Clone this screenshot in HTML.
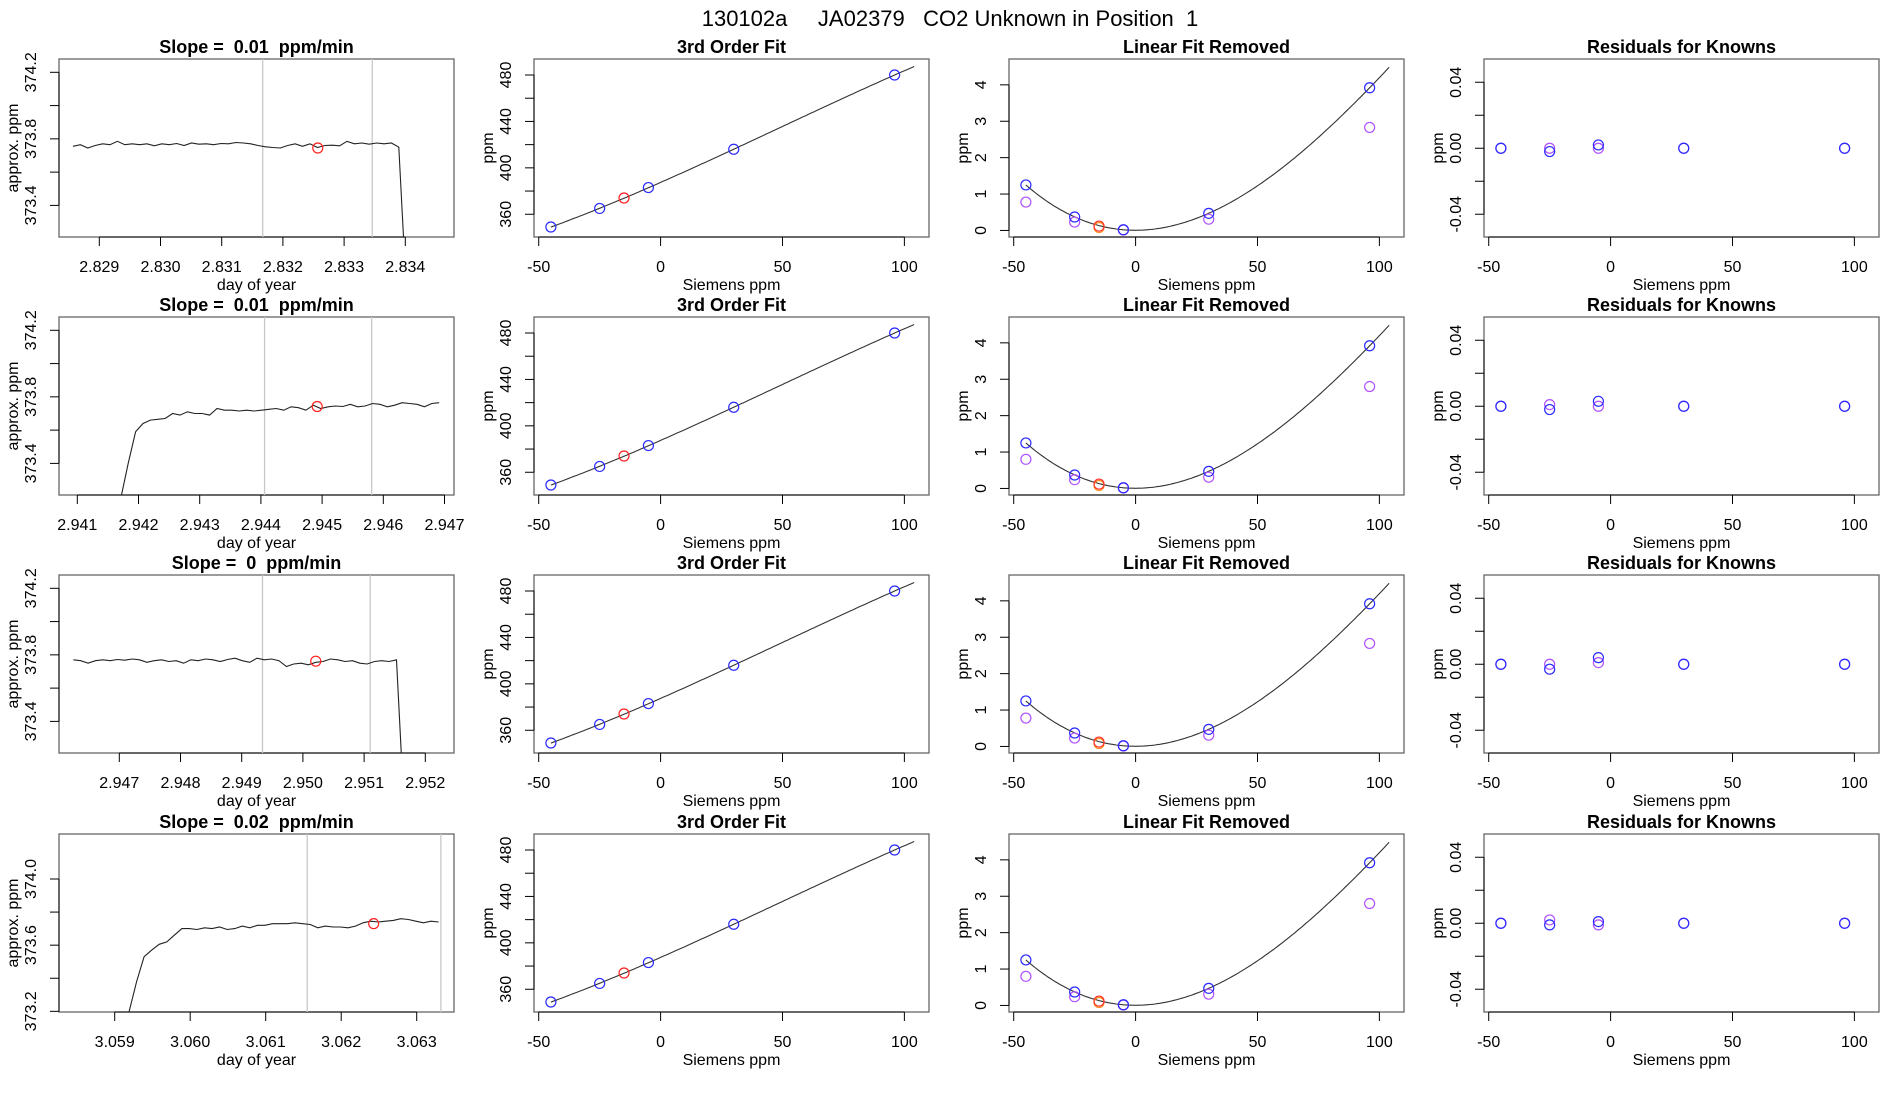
<!DOCTYPE html>
<html><head><meta charset="utf-8"><style>
html,body{margin:0;padding:0;background:#fff;width:1900px;height:1100px;overflow:hidden}
svg text{font-family:"Liberation Sans",Arial,sans-serif;fill:#000;white-space:pre}
</style></head><body>
<svg id="fig" width="1900" height="1100" viewBox="0 0 1900 1100" xmlns="http://www.w3.org/2000/svg">
<rect width="1900" height="1100" fill="#fff"/>
<text x="950" y="26" text-anchor="middle" font-size="22" style="white-space:pre">130102a     JA02379   CO2 Unknown in Position  1</text>
</svg>
<script>
// ---- data ----
const slopeLabels = ["0.01","0.01","0","0.02"];
const tsStart = [2.82857, 2.94171, 2.94625, 3.05919];
const tsStep = [0.000121, 0.000121, 0.00012, 0.0001];
const tsVals0 = [373.755,373.765,373.745,373.76,373.77,373.765,373.785,373.765,373.77,373.765,373.77,373.758,373.77,373.765,373.772,373.76,373.775,373.768,373.77,373.765,373.772,373.77,373.778,373.775,373.77,373.76,373.752,373.748,373.745,373.76,373.77,373.755,373.77,373.748,373.76,373.762,373.758,373.785,373.77,373.775,373.768,373.775,373.77,373.775,373.75,372.9];
const tsVals1 = [373.19,373.40,373.59,373.64,373.66,373.665,373.67,373.70,373.69,373.71,373.70,373.70,373.69,373.73,373.72,373.72,373.715,373.72,373.715,373.72,373.725,373.73,373.72,373.74,373.735,373.72,373.75,373.73,373.74,373.745,373.742,373.755,373.74,373.745,373.76,373.755,373.74,373.75,373.765,373.76,373.755,373.74,373.76,373.765];
const tsVals2 = [373.77,373.765,373.75,373.765,373.77,373.765,373.772,373.768,373.775,373.77,373.755,373.765,373.77,373.76,373.765,373.75,373.77,373.765,373.775,373.77,373.76,373.772,373.78,373.765,373.755,373.78,373.77,373.775,373.765,373.73,373.745,373.75,373.74,373.755,373.76,373.775,373.77,373.76,373.765,373.75,373.745,373.76,373.765,373.76,373.77,372.9];
const tsVals3 = [373.196,373.38,373.53,373.57,373.605,373.62,373.66,373.70,373.70,373.695,373.705,373.70,373.71,373.695,373.70,373.715,373.705,373.72,373.72,373.73,373.73,373.73,373.735,373.73,373.725,373.705,373.715,373.71,373.71,373.705,373.715,373.735,373.745,373.74,373.745,373.75,373.76,373.755,373.745,373.735,373.745,373.74];
const redT = [2.83257, 2.94492, 2.95021, 3.06243];
const redV = [373.745, 373.742, 373.762, 373.73];
const grayLineA = [2.83167, 2.94406, 2.94934, 3.06155];
const grayLineB = [2.83346, 2.94581, 2.95110, 3.06332];
const xTickStart = [2.829, 2.941, 2.947, 3.059];
const xTickEnd = [2.834, 2.947, 2.952, 3.063];
const tsYTicks0 = [373.4, 373.6, 373.8, 374.0, 374.2];
const tsYTicksLast = [373.2, 373.4, 373.6, 373.8, 374.0];
const siemens = [-45, -25, -5, 30, 96];
const unknownX = -15;
const fitPpm = [349, 365, 383, 416, 480];
const unknownPpm = 374;
const linRemBlue = [1.25, 0.37, 0.02, 0.47, 3.92];
const linRemPurple0 = [0.78, 0.23, 0.01, 0.31, 2.83];
const linRemPurple1 = [0.80, 0.24, 0.01, 0.31, 2.80];
const unknownLinRem = [0.12, 0.08];
const residBlue = [[0,-0.002,0.002,0,0],[0,-0.002,0.003,0,0],[0,-0.003,0.004,0,0],[0,-0.001,0.001,0,0]];
const residPurple = [[0,0,0,0,0],[0,0.001,0,0,0],[0,0,0.001,0,0],[0,0.002,-0.001,0,0]];

// ---- drawing ----
const NS="http://www.w3.org/2000/svg";
const svg=document.getElementById('fig');
const colL=[59,534,1009,1484], rowT=[59,317,575,834], W=395, H=178;
function mk(tag,attrs,parent){const e=document.createElementNS(NS,tag);for(const k in attrs)e.setAttribute(k,attrs[k]);(parent||svg).appendChild(e);return e;}
function scale(d0,d1,r0,r1){return v=>r0+(v-d0)/(d1-d0)*(r1-r0);}
let clipN=0;
function panel(r,c,xd,yd,title,xlab,ylab,xt,yt,xfmt,yfmt,name,labelEvery){
  const L=colL[c],T=rowT[r];
  const g=mk('g',{});
  
  
  const sx=scale(xd[0],xd[1],L,L+W), sy=scale(yd[0],yd[1],T+H,T);
  const t=mk('text',{x:L+W/2,y:T-6,'text-anchor':'middle','font-size':18,'font-weight':'bold'},g);t.textContent=title;
  
  
  mk('rect',{x:L,y:T,width:W,height:H,fill:'none',stroke:'#666','stroke-width':1.3},g);
  const xa=mk('g',{},g);
  
  
  mk('line',{x1:sx(xt[0]),x2:sx(xt[xt.length-1]),y1:T+H,y2:T+H,stroke:'#000','stroke-width':1},xa);
  xt.forEach(v=>{mk('line',{x1:sx(v),x2:sx(v),y1:T+H,y2:T+H+9,stroke:'#000'},xa);
    const tx=mk('text',{x:sx(v),y:T+H+35,'text-anchor':'middle','font-size':16},xa);tx.textContent=xfmt(v);});
  const xl=mk('text',{x:L+W/2,y:T+H+53,'text-anchor':'middle','font-size':16},g);xl.textContent=xlab;
  
  
  const ya=mk('g',{},g);
  
  
  mk('line',{x1:L,x2:L,y1:sy(yt[0]),y2:sy(yt[yt.length-1]),stroke:'#000'},ya);
  yt.forEach((v,i)=>{mk('line',{x1:L-9,x2:L,y1:sy(v),y2:sy(v),stroke:'#000'},ya);
    if(i%labelEvery===0){const tx=mk('text',{x:0,y:0,'text-anchor':'middle','font-size':16,transform:`translate(${L-23},${sy(v)}) rotate(-90)`},ya);tx.textContent=yfmt(v);}});
  const yl=mk('text',{x:0,y:0,'text-anchor':'middle','font-size':16,transform:`translate(${L-41},${T+H/2}) rotate(-90)`},g);yl.textContent=ylab;
  
  
  const id='cp'+(clipN++);
  const cp=mk('clipPath',{id},g);mk('rect',{x:L,y:T,width:W,height:H},cp);
  const inner=mk('g',{'clip-path':`url(#${id})`},g);
  return {sx,sy,g,inner};
}
function circ(p,x,y,col,name){const e=mk('circle',{cx:p.sx(x),cy:p.sy(y),r:5,fill:'none',stroke:col,'stroke-width':1.2},p.g);
  
  return e;}
function fitCubic(xs,ys){
  const n=4,A=[];for(let i=0;i<n;i++){A.push(new Array(n+1).fill(0));}
  xs.forEach((x,k)=>{for(let i=0;i<n;i++){for(let j=0;j<n;j++)A[i][j]+=Math.pow(x,i+j);A[i][n]+=Math.pow(x,i)*ys[k];}});
  for(let i=0;i<n;i++){let m=i;for(let r=i+1;r<n;r++)if(Math.abs(A[r][i])>Math.abs(A[m][i]))m=r;[A[i],A[m]]=[A[m],A[i]];
    for(let r=0;r<n;r++){if(r===i)continue;const f=A[r][i]/A[i][i];for(let c=i;c<=n;c++)A[r][c]-=f*A[i][c];}}
  const co=A.map((row,i)=>row[n]/row[i]);return x=>co[0]+co[1]*x+co[2]*x*x+co[3]*x*x*x;
}
const tsVals=[tsVals0,tsVals1,tsVals2,tsVals3];
const f3=v=>v.toFixed(3), f1=v=>v.toFixed(1), f0=v=>String(v), f2=v=>v.toFixed(2);
const sXd=[-51.93,110.1];
for(let r=0;r<4;r++){
  const xd0=xTickStart[r], per=(r===3?75.5:61.2)/0.001;
  const tsx=[xd0-( (r===0?40.3:r===1?18.3:r===2?60.3:55.7) )/per, 0];
  tsx[1]=tsx[0]+W/per;
  const yd=r===3?[373.196,374.272]:[373.21,374.28];
  const xt=[];for(let k=0;xTickStart[r]+k*0.001<=xTickEnd[r]+1e-9;k++)xt.push(xTickStart[r]+k*0.001);
  const yt=r===3?tsYTicksLast:tsYTicks0;
  const p=panel(r,0,tsx,yd,`Slope =  ${slopeLabels[r]}  ppm/min`,'day of year','approx. ppm',xt,yt,f3,f1,'timeseries-panel-'+(r+1),2);
  [grayLineA[r],grayLineB[r]].forEach(t=>{const l=mk('line',{x1:p.sx(t),x2:p.sx(t),y1:rowT[r],y2:rowT[r]+H,stroke:'#c8c8c8','stroke-width':1.3},p.inner);
    
    });
  const pts=tsVals[r].map((v,i)=>p.sx(tsStart[r]+i*tsStep[r]).toFixed(1)+','+p.sy(v).toFixed(1)).join(' ');
  const pl=mk('polyline',{points:pts,fill:'none',stroke:'#222','stroke-width':1.1},p.inner);
  
  
  circ(p,redT[r],redV[r],'#ff2020','sample-point');

  const p2=panel(r,1,sXd,[340.4,493.8],'3rd Order Fit','Siemens ppm','ppm',[-50,0,50,100],[360,380,400,420,440,460,480],f0,f0,'fit-panel-'+(r+1),2);
  const fc=fitCubic(siemens,fitPpm);const cp=[];for(let x=-45;x<=104;x+=1)cp.push(p2.sx(x).toFixed(1)+','+p2.sy(fc(x)).toFixed(1));
  const fl=mk('polyline',{points:cp.join(' '),fill:'none',stroke:'#333','stroke-width':1.1},p2.g);
  
  
  siemens.forEach((x,i)=>circ(p2,x,fitPpm[i],'#2a2aff','standard-point'));
  circ(p2,unknownX,unknownPpm,'#ff2020','unknown-point');

  const p3=panel(r,2,sXd,[-0.18,4.71],'Linear Fit Removed','Siemens ppm','ppm',[-50,0,50,100],[0,1,2,3,4],f0,f0,'linear-removed-panel-'+(r+1),1);
  const fq=fitCubic(siemens,linRemBlue);const cq=[];for(let x=-45;x<=104.4;x+=1)cq.push(p3.sx(x).toFixed(1)+','+p3.sy(fq(x)).toFixed(1));
  const ql=mk('polyline',{points:cq.join(' '),fill:'none',stroke:'#333','stroke-width':1.1},p3.g);
  
  
  const pur=(r%2===0)?linRemPurple0:linRemPurple1;
  siemens.forEach((x,i)=>circ(p3,x,pur[i],'#b050ff','previous-standard-point'));
  siemens.forEach((x,i)=>circ(p3,x,linRemBlue[i],'#2a2aff','standard-point'));
  circ(p3,unknownX,unknownLinRem[1],'#ff9020','previous-unknown-point');
  circ(p3,unknownX,unknownLinRem[0],'#ff3030','unknown-point');

  const p4=panel(r,3,sXd,[-0.0538,0.0541],'Residuals for Knowns','Siemens ppm','ppm',[-50,0,50,100],[-0.04,-0.02,0,0.02,0.04],f0,f2,'residuals-panel-'+(r+1),2);
  siemens.forEach((x,i)=>circ(p4,x,residPurple[r][i],'#b050ff','previous-residual-point'));
  siemens.forEach((x,i)=>circ(p4,x,residBlue[r][i],'#2a2aff','residual-point'));
}
</script>
</body></html>
